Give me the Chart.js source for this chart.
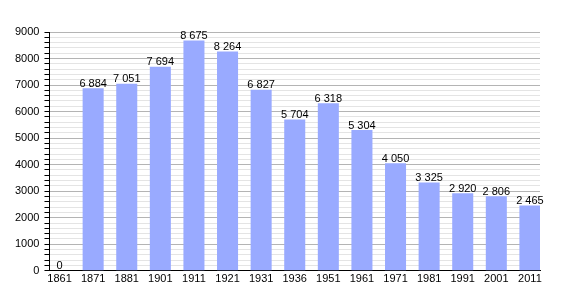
<!DOCTYPE html>
<html>
<head>
<meta charset="utf-8">
<script src="https://cdn.jsdelivr.net/npm/chart.js@4"></script>
<style>
  body { margin: 0; background: #fff; }
  #wrap { width: 570px; height: 300px; }
</style>
</head>
<body>
<div id="wrap"><canvas id="myChart"></canvas></div>
<script>
const years = ["1861", "1871", "1881", "1901", "1911", "1921", "1931", "1936", "1951", "1961", "1971", "1981", "1991", "2001", "2011"];
const population = [0, 6884, 7051, 7694, 8675, 8264, 6827, 5704, 6318, 5304, 4050, 3325, 2920, 2806, 2465];

// thousands with a space, like "6 884"
function fmt(v) {
  return String(v).replace(/\B(?=(\d{3})+(?!\d))/g, " ");
}

const barLabels = {
  id: "barLabels",
  afterDatasetsDraw(chart) {
    const ctx = chart.ctx;
    const meta = chart.getDatasetMeta(0);
    ctx.save();
    ctx.font = "11px 'Liberation Sans', Arial, sans-serif";
    ctx.fillStyle = "#000";
    ctx.textAlign = "center";
    ctx.textBaseline = "bottom";
    meta.data.forEach((bar, i) => {
      ctx.fillText(fmt(population[i]), bar.x, bar.y + 1);
    });
    ctx.restore();
  }
};

new Chart(document.getElementById("myChart"), {
  type: "bar",
  data: {
    labels: years,
    datasets: [{
      data: population,
      backgroundColor: "#99aaff",
      borderWidth: 0,
      barPercentage: 0.626,
      categoryPercentage: 1
    }]
  },
  options: {
    responsive: true,
    maintainAspectRatio: false,
    animation: false,
    layout: { padding: { top: 32, right: 30, left: 10, bottom: 12 } },
    plugins: { legend: { display: false }, tooltip: { enabled: false } },
    scales: {
      x: {
        offset: false,
        // smaller edge gap than the default half category
        afterBuildTicks: (scale) => {
          scale._startValue = scale.min - 0.3;
          scale._valueRange = (scale.max - scale.min) + 0.6;
        },
        grid: { display: false, drawTicks: false, offset: false },
        border: { color: "#000", width: 1 },
        ticks: {
          color: "#000",
          padding: 2,
          maxRotation: 0,
          autoSkip: false,
          font: { family: "'Liberation Sans', Arial, sans-serif", size: 11 }
        }
      },
      y: {
        min: 0,
        max: 9000,
        border: { color: "#000", width: 1 },
        grid: {
          color: (c) => (c.tick && c.tick.value % 1000 === 0 ? "#b4b4b4" : "#e4e4e4"),
          tickColor: "#000",
          tickLength: 5
        },
        ticks: {
          stepSize: 200,
          autoSkip: false,
          color: "#000",
          padding: 5,
          font: { family: "'Liberation Sans', Arial, sans-serif", size: 11 },
          callback: (v) => (v % 1000 === 0 ? v : "")
        }
      }
    }
  },
  plugins: [barLabels]
});
</script>
</body>
</html>
